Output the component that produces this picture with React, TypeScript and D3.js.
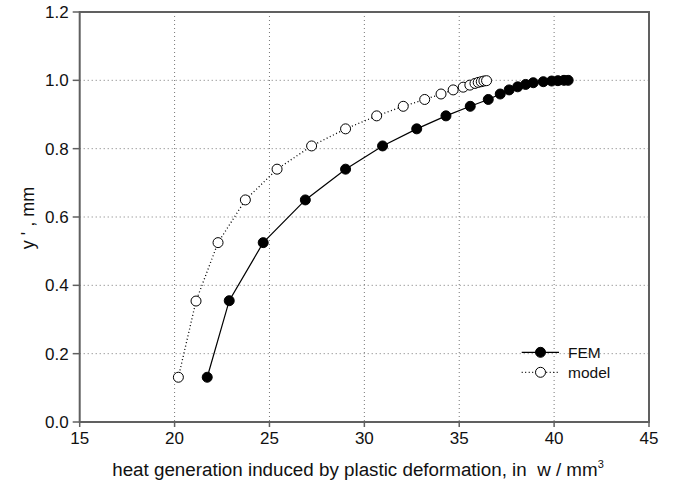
import React from "react";
import * as d3 from "d3";

const femX = [21.72, 22.88, 24.67, 26.89, 29.01, 30.96, 32.76, 34.3, 35.58, 36.53, 37.16, 37.63, 38.08, 38.5, 38.9, 39.43, 39.87, 40.2, 40.52, 40.74];
const femY = [0.131, 0.355, 0.525, 0.65, 0.74, 0.808, 0.858, 0.896, 0.924, 0.944, 0.96, 0.972, 0.981, 0.988, 0.993, 0.996, 0.998, 0.999, 1.0, 1.0];
const modelX = [20.2, 21.13, 22.29, 23.73, 25.4, 27.22, 29.01, 30.65, 32.05, 33.18, 34.04, 34.68, 35.21, 35.56, 35.83, 36.0, 36.16, 36.3, 36.44];
const modelY = [0.131, 0.354, 0.525, 0.65, 0.74, 0.808, 0.858, 0.896, 0.924, 0.944, 0.96, 0.972, 0.98, 0.986, 0.991, 0.994, 0.996, 0.998, 0.999];
const xTicks = [15, 20, 25, 30, 35, 40, 45];
const yTicks = [0, 0.2, 0.4, 0.6, 0.8, 1.0, 1.2];
const seriesNames = ["FEM", "model"];

export default function App() {
  const W = 677, H = 488;
  const x = d3.scaleLinear().domain([15, 45]).range([79.7, 649]);
  const y = d3.scaleLinear().domain([0, 1.2]).range([422, 12]);
  const line = d3.line<[number, number]>().x(d => x(d[0])).y(d => y(d[1]));
  const fem: [number, number][] = femX.map((v, i) => [v, femY[i]]);
  const model: [number, number][] = modelX.map((v, i) => [v, modelY[i]]);
  const font = "Liberation Sans, Arial, Helvetica, sans-serif";
  const axisColor = "#606060";
  return (
    <svg width={W} height={H} style={{ position: "absolute", left: 0, top: 0, background: "#fff" }} fontFamily={font}>
      {xTicks.slice(1, -1).map(t => (
        <line key={"gx" + t} x1={x(t)} x2={x(t)} y1={y(1.2)} y2={y(0)} stroke="#777" strokeWidth={1} strokeDasharray="1,3" />
      ))}
      {yTicks.slice(1, -1).map(t => (
        <line key={"gy" + t} x1={x(15)} x2={x(45)} y1={y(t)} y2={y(t)} stroke="#777" strokeWidth={1} strokeDasharray="1,3" />
      ))}
      <rect x={x(15)} y={y(1.2)} width={x(45) - x(15)} height={y(0) - y(1.2)} fill="none" stroke={axisColor} strokeWidth={2} />
      {xTicks.map(t => (
        <g key={"xt" + t}>
          <line x1={x(t)} x2={x(t)} y1={y(0)} y2={y(0) + 5} stroke={axisColor} strokeWidth={1.5} />
          <text x={x(t)} y={y(0) + 22} fontSize={17} textAnchor="middle" fill="#111">{t}</text>
        </g>
      ))}
      {yTicks.map(t => (
        <g key={"yt" + t}>
          <line x1={x(15) - 7} x2={x(15)} y1={y(t)} y2={y(t)} stroke={axisColor} strokeWidth={1.5} />
          <text x={x(15) - 11} y={y(t)} dy="0.35em" fontSize={17} textAnchor="end" fill="#111">{t.toFixed(1)}</text>
        </g>
      ))}
      <text x={358} y={476} fontSize={18.8} textAnchor="middle" fill="#111" style={{ whiteSpace: "pre" }}>
        {"heat generation induced by plastic deformation, in  w / mm"}<tspan dy={-8} fontSize={11}>3</tspan>
      </text>
      <text transform={`translate(34,${218}) rotate(-90)`} fontSize={18} textAnchor="middle" fill="#111">y ' , mm</text>
      <path d={line(model) || ""} fill="none" stroke="#000" strokeWidth={1.3} strokeDasharray="1,2.5" />
      <path d={line(fem) || ""} fill="none" stroke="#000" strokeWidth={1.2} />
      {model.map((d, i) => (
        <circle key={"m" + i} cx={x(d[0])} cy={y(d[1])} r={5} fill="#fff" stroke="#000" strokeWidth={1} />
      ))}
      {fem.map((d, i) => (
        <circle key={"f" + i} cx={x(d[0])} cy={y(d[1])} r={5} fill="#000" stroke="#000" strokeWidth={1} />
      ))}
      <g>
        <line x1={521.7} x2={559} y1={352.3} y2={352.3} stroke="#000" strokeWidth={1.2} />
        <circle cx={540.5} cy={352.3} r={5} fill="#000" stroke="#000" />
        <text x={568} y={352.3} dy="0.35em" fontSize={15.5} fill="#111">{seriesNames[0]}</text>
        <line x1={521.7} x2={559} y1={372.3} y2={372.3} stroke="#000" strokeWidth={1.3} strokeDasharray="1,2.5" />
        <circle cx={540.5} cy={372.3} r={5} fill="#fff" stroke="#000" />
        <text x={568} y={372.3} dy="0.35em" fontSize={15.5} fill="#111">{seriesNames[1]}</text>
      </g>
    </svg>
  );
}
